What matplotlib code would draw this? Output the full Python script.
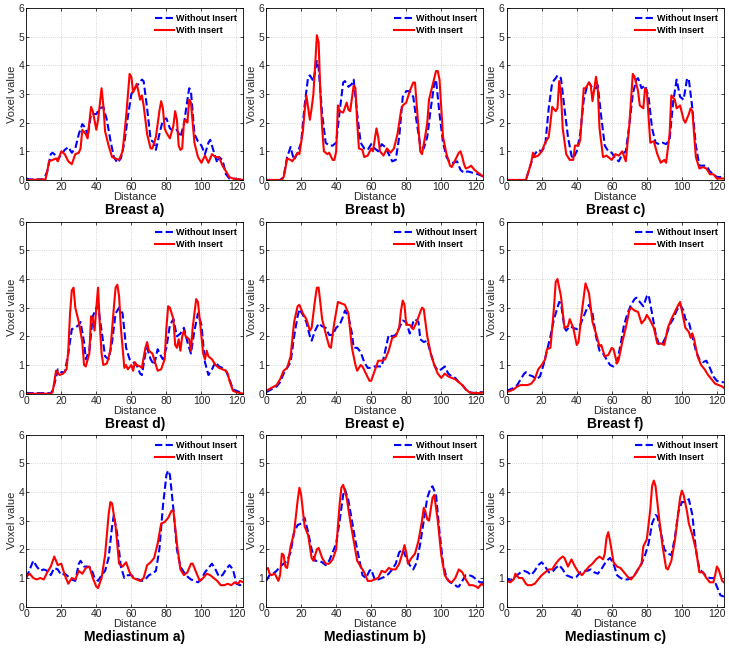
import matplotlib
matplotlib.use('Agg')
import matplotlib.pyplot as plt

plt.rcParams['font.family'] = ['Liberation Sans', 'DejaVu Sans']

# ---- Breast a) ----
ba_wo_x = [0, 2, 10, 12, 14, 15, 17, 18, 20, 22, 24, 26, 28, 30, 32, 34, 35, 37, 40, 42, 44, 46, 48, 50, 52, 54, 56, 58, 60, 62,
           64, 66, 67, 69, 71, 73, 74, 76, 78, 80, 82, 84, 86, 88, 90, 92, 93, 94, 96, 98, 100, 102, 104, 105, 107, 109, 110, 112, 114, 116, 118, 124]
ba_wo_y = [0.05, 0.02, 0.02, 0.3, 0.9, 0.95, 0.85, 0.7, 0.9, 1.05, 1.15, 0.95, 1.1, 1.6, 1.95, 1.8, 1.5, 2.3, 2.3, 2.5, 2.55, 2.1, 1.4, 0.8, 0.6, 0.75, 1.3, 2.2, 3.0, 3.2,
           3.35, 3.5, 3.45, 2.5, 1.4, 1.3, 1.05, 1.6, 2.1, 2.15, 1.8, 1.7, 1.75, 1.5, 1.95, 2.8, 3.2, 3.1, 1.6, 1.35, 1.2, 0.9, 1.3, 1.4, 1.0, 0.6, 0.8, 0.7, 0.2, 0.05, 0.05, 0.0]
ba_wi_x = [0, 11, 12, 13, 15, 17, 18, 20, 22, 24, 26, 28, 30, 31, 32, 34, 35, 37, 38, 40, 41, 43, 44, 45, 47, 49, 51, 53, 55, 57,
           59, 60, 61, 63, 64, 65, 66, 67, 69, 71, 72, 74, 76, 77, 78, 79, 80, 82, 84, 85, 86, 87, 88, 89, 90, 91, 92, 93, 94, 96,
           98, 100, 102, 104, 106, 108, 110, 112, 114, 116, 118, 124]
ba_wi_y = [0, 0.02, 0.3, 0.65, 0.7, 0.75, 0.65, 1.0, 0.9, 0.65, 0.55, 0.9, 0.95, 1.1, 1.75, 1.6, 1.45, 2.55, 2.4, 1.75, 2.1, 3.2, 2.6, 1.7, 1.2, 0.8, 0.75, 0.7, 1.0, 2.2,
           3.7, 3.6, 3.05, 3.35, 3.1, 2.8, 2.95, 2.6, 1.6, 1.1, 1.1, 1.5, 2.4, 2.75, 2.5, 1.8, 1.65, 1.45, 1.9, 2.4, 2.1, 1.2, 1.05, 1.1, 2.0, 2.1, 2.0, 2.8, 2.7, 1.3,
           0.8, 0.6, 0.85, 0.6, 0.9, 0.8, 0.8, 0.5, 0.3, 0.1, 0.05, 0.0]

# ---- Breast b) ----
bb_wo_x = [0, 8, 10, 12, 14, 15, 16, 18, 20, 22, 24, 25, 27, 29, 30, 32, 34, 36, 38, 40, 42, 44, 45, 47, 49, 50, 52, 54, 56, 58,
           60, 62, 64, 66, 68, 70, 72, 74, 76, 78, 80, 82, 84, 86, 88, 90, 92, 94, 96, 97, 99, 101, 103, 105, 107, 109, 111, 113, 115, 118, 121, 124]
bb_wo_y = [0, 0, 0.1, 0.8, 1.15, 0.9, 0.7, 0.95, 1.3, 2.6, 3.6, 3.65, 3.45, 4.15, 3.9, 2.3, 1.3, 1.2, 1.2, 1.3, 2.4, 3.4, 3.45, 3.25, 3.35, 3.5, 2.3, 1.3, 1.1, 1.05,
           1.25, 1.1, 1.0, 1.25, 1.15, 0.9, 0.65, 0.7, 1.5, 2.9, 3.1, 3.1, 2.9, 2.0, 1.2, 1.1, 1.5, 2.5, 3.35, 3.5, 2.3, 1.3, 0.8, 0.6, 0.6, 0.65, 0.35, 0.25, 0.3, 0.25, 0.2, 0.12]
bb_wi_x = [0, 9, 10, 11, 12, 14, 15, 16, 18, 19, 21, 22, 23, 25, 26, 27, 28, 29, 30, 31, 32, 33, 35, 36, 38, 39, 40, 41, 42, 44,
           46, 47, 48, 50, 51, 52, 53, 55, 56, 58, 60, 61, 62, 63, 64, 65, 67, 69, 71, 73, 75, 77, 78, 80, 82, 84, 85, 87, 88, 89,
           91, 92, 93, 95, 97, 98, 99, 101, 103, 105, 106, 108, 110, 111, 112, 113, 114, 116, 117, 119, 121, 124]
bb_wi_y = [0, 0, 0.1, 0.4, 0.75, 0.7, 0.65, 0.75, 0.95, 0.9, 1.7, 2.4, 2.95, 2.1, 2.5, 3.0, 4.0, 5.05, 4.8, 3.0, 1.8, 1.0, 0.9, 0.95, 0.7, 0.7, 1.0, 2.6, 2.4, 2.35,
           2.7, 2.45, 2.4, 3.3, 3.2, 2.0, 1.1, 1.05, 0.8, 0.85, 1.1, 1.0, 1.4, 1.8, 1.5, 1.0, 0.85, 1.1, 0.95, 1.1, 1.6, 2.4, 2.6, 2.7, 3.1, 3.4, 3.4, 1.8, 1.0, 0.9,
           1.6, 2.0, 2.8, 3.3, 3.8, 3.8, 3.5, 1.5, 0.9, 0.5, 0.45, 0.7, 0.95, 1.0, 0.8, 0.55, 0.4, 0.45, 0.5, 0.35, 0.25, 0.12]

# ---- Breast c) ----
bc_wo_x = [0, 11, 12, 14, 16, 18, 20, 22, 24, 26, 28, 29, 31, 33, 35, 37, 38, 40, 42, 44, 46, 47, 49, 51, 52, 54, 56, 58, 60, 62,
           64, 66, 68, 70, 72, 74, 75, 77, 79, 81, 83, 85, 87, 89, 91, 93, 95, 97, 99, 101, 103, 104, 106, 108, 110, 112, 114, 116, 118, 120, 122, 124]
bc_wo_y = [0, 0, 0.2, 0.6, 0.9, 1.05, 1.0, 1.2, 2.5, 3.4, 3.55, 3.65, 3.55, 2.5, 1.5, 0.85, 0.75, 1.0, 1.6, 2.8, 3.3, 3.4, 3.2, 3.2, 3.3, 2.2, 1.2, 1.0, 0.95, 0.75,
           0.65, 0.9, 1.0, 1.9, 3.0, 3.5, 3.55, 3.2, 3.3, 2.9, 1.8, 1.3, 1.25, 1.3, 1.25, 1.4, 2.7, 3.5, 2.9, 2.8, 3.55, 3.5, 2.5, 1.2, 0.5, 0.5, 0.5, 0.3, 0.2, 0.1, 0.1, 0.2]
bc_wi_x = [0, 11, 12, 14, 15, 16, 18, 20, 22, 24, 25, 26, 28, 29, 30, 31, 32, 34, 36, 38, 39, 41, 42, 44, 45, 47, 48, 49, 51, 52,
           53, 55, 57, 58, 60, 62, 64, 66, 68, 70, 72, 73, 75, 76, 78, 79, 80, 82, 84, 86, 88, 90, 91, 93, 94, 96, 97, 99, 101, 102,
           104, 105, 106, 108, 110, 112, 114, 116, 118, 120, 124]
bc_wi_y = [0, 0, 0.2, 0.6, 0.95, 0.8, 0.85, 1.0, 1.3, 1.5, 2.0, 2.55, 2.4, 2.5, 3.45, 3.0, 1.8, 0.9, 0.7, 0.7, 1.2, 1.2, 1.4, 3.2, 3.2, 3.4, 3.3, 2.75, 3.6, 3.2,
           1.8, 0.8, 0.85, 0.8, 0.7, 0.9, 0.85, 1.0, 0.65, 1.9, 3.7, 3.6, 3.1, 2.6, 2.5, 3.2, 3.1, 1.3, 1.35, 0.9, 0.6, 0.7, 0.6, 1.6, 2.95, 2.8, 2.5, 2.6, 2.1, 2.0,
           2.3, 2.5, 2.4, 0.8, 0.4, 0.45, 0.4, 0.2, 0.2, 0.05, 0.05]

# ---- Breast d) ----
bd_wo_x = [0, 2, 14, 15, 17, 18, 20, 22, 24, 26, 28, 30, 31, 33, 34, 36, 38, 40, 41, 43, 45, 47, 49, 51, 53, 55, 57, 59, 61, 63,
           65, 66, 68, 69, 71, 73, 75, 77, 78, 80, 82, 84, 86, 88, 90, 92, 94, 96, 98, 100, 102, 104, 106, 108, 110, 112, 114, 116, 118, 120, 122, 124]
bd_wo_y = [0.03, 0.02, 0.02, 0.1, 0.55, 0.85, 0.75, 0.75, 1.4, 2.25, 2.3, 2.4, 2.5, 1.8, 1.2, 1.5, 2.7, 3.0, 3.05, 2.2, 1.3, 1.2, 1.8, 2.8, 3.0, 2.8, 1.6, 1.2, 1.1, 1.0,
           0.7, 0.65, 1.4, 1.6, 1.2, 1.0, 1.55, 1.3, 1.2, 1.6, 2.4, 2.6, 2.0, 2.1, 2.3, 1.8, 1.4, 2.2, 2.8, 2.4, 1.1, 0.65, 0.85, 1.1, 0.95, 0.9, 0.8, 0.5, 0.15, 0.1, 0.05, 0.0]
bd_wi_x = [0, 14, 15, 16, 17, 18, 19, 21, 23, 24, 25, 26, 27, 28, 30, 32, 33, 34, 36, 37, 38, 39, 40, 41, 42, 43, 44, 46, 48, 50,
           51, 52, 53, 54, 56, 57, 58, 60, 61, 62, 63, 65, 66, 68, 69, 70, 72, 73, 75, 77, 79, 80, 81, 82, 84, 85, 86, 87, 88, 89,
           90, 91, 92, 93, 94, 95, 96, 97, 98, 99, 101, 102, 103, 104, 106, 108, 110, 112, 114, 115, 116, 118, 120, 122, 124]
bd_wi_y = [0, 0, 0.05, 0.4, 0.8, 0.75, 0.65, 0.7, 0.85, 1.5, 2.8, 3.6, 3.7, 3.0, 2.5, 1.8, 1.0, 0.95, 1.4, 2.7, 2.6, 2.2, 3.0, 3.7, 2.4, 1.4, 1.0, 1.05, 1.5, 3.0,
           3.7, 3.8, 3.4, 2.3, 0.9, 1.0, 0.85, 1.0, 0.8, 1.1, 1.0, 0.95, 0.9, 1.6, 1.8, 1.5, 1.4, 1.2, 0.8, 0.85, 1.2, 2.3, 3.05, 3.0, 2.6, 1.7, 1.6, 1.9, 1.5, 2.0,
           2.2, 2.0, 1.95, 1.9, 1.5, 2.3, 2.8, 3.3, 3.2, 2.6, 1.4, 1.2, 1.5, 1.3, 1.2, 1.0, 0.9, 0.85, 0.8, 0.7, 0.45, 0.1, 0.05, 0.02, 0.0]

# ---- Breast e) ----
be_wo_x = [0, 3, 6, 8, 10, 12, 14, 16, 18, 19, 21, 23, 25, 26, 28, 30, 32, 34, 36, 38, 40, 42, 44, 45, 47, 49, 50, 52, 54, 56,
           58, 60, 62, 64, 66, 68, 70, 72, 74, 76, 78, 80, 82, 84, 85, 87, 88, 90, 92, 94, 96, 98, 100, 102, 104, 106, 108, 110, 112, 114,
           116, 118, 120, 122, 124]
be_wo_y = [0.05, 0.15, 0.25, 0.4, 0.7, 0.9, 1.1, 2.0, 2.7, 2.95, 2.75, 2.5, 2.0, 1.85, 2.2, 2.45, 2.35, 2.3, 2.05, 2.05, 2.3, 2.4, 2.7, 2.9, 2.7, 2.1, 1.6, 1.6, 1.45, 1.1,
           0.9, 0.9, 0.95, 0.95, 0.95, 1.5, 2.05, 2.0, 2.05, 2.3, 2.55, 2.5, 2.1, 2.5, 2.6, 2.5, 1.9, 1.8, 1.85, 1.4, 1.0, 0.8, 0.85, 0.95, 0.7, 0.6, 0.55, 0.4, 0.3, 0.15,
           0.05, 0.03, 0.03, 0.05, 0.05]
be_wi_x = [0, 3, 6, 8, 10, 12, 14, 16, 18, 19, 21, 23, 25, 26, 28, 29, 30, 32, 34, 36, 37, 39, 41, 43, 45, 47, 49, 51, 52, 54,
           55, 57, 59, 60, 62, 64, 66, 68, 70, 72, 74, 76, 77, 78, 79, 80, 82, 84, 86, 88, 89, 90, 92, 94, 96, 98, 100, 102, 104, 106,
           108, 110, 112, 114, 116, 118, 120, 122, 124]
be_wi_y = [0.1, 0.2, 0.3, 0.5, 0.8, 0.9, 1.3, 2.5, 3.05, 3.1, 2.8, 2.6, 2.2, 2.3, 3.3, 3.7, 3.7, 2.6, 2.1, 1.65, 1.6, 2.5, 3.2, 3.15, 3.1, 2.8, 1.6, 1.0, 0.8, 1.0,
           0.95, 0.7, 0.45, 0.45, 0.8, 1.15, 1.15, 1.2, 1.5, 1.95, 2.0, 2.3, 2.9, 3.25, 3.1, 2.4, 2.4, 2.25, 2.5, 2.85, 3.0, 2.95, 2.0, 1.4, 1.0, 0.7, 0.55, 0.7, 0.6, 0.55,
           0.5, 0.4, 0.3, 0.15, 0.05, 0.02, 0.02, 0.02, 0.05]

# ---- Breast f) ----
bf_wo_x = [0, 2, 4, 6, 8, 10, 11, 13, 15, 17, 19, 21, 23, 25, 27, 29, 30, 31, 33, 34, 36, 38, 40, 42, 44, 46, 47, 49, 51, 53,
           55, 57, 59, 61, 63, 65, 67, 69, 71, 73, 74, 76, 78, 80, 81, 83, 85, 87, 89, 91, 93, 95, 97, 99, 101, 102, 104, 106, 108, 110,
           112, 114, 116, 118, 120, 122, 124]
bf_wo_y = [0.1, 0.15, 0.2, 0.3, 0.5, 0.7, 0.75, 0.65, 0.6, 0.5, 0.6, 1.0, 1.5, 2.0, 2.6, 3.0, 3.2, 3.15, 2.3, 2.2, 2.35, 2.3, 2.25, 2.4, 2.7, 3.0, 3.1, 2.8, 2.0, 1.5,
           1.4, 1.2, 1.0, 0.95, 1.1, 1.7, 2.4, 2.8, 3.1, 3.3, 3.35, 3.2, 3.05, 3.4, 3.45, 2.8, 2.1, 1.7, 1.75, 2.0, 2.4, 2.6, 2.9, 3.1, 2.9, 2.6, 2.5, 2.0, 1.5, 1.2,
           1.1, 1.15, 0.9, 0.6, 0.45, 0.4, 0.4]
bf_wi_x = [0, 2, 4, 6, 8, 10, 12, 14, 16, 18, 20, 22, 23, 25, 27, 28, 29, 31, 33, 35, 36, 38, 40, 41, 43, 45, 47, 49, 51, 53,
           54, 56, 58, 60, 61, 63, 64, 66, 68, 70, 71, 73, 75, 77, 79, 80, 82, 84, 86, 88, 90, 92, 94, 96, 98, 99, 101, 102, 104, 105,
           106, 107, 109, 111, 113, 115, 117, 119, 121, 123, 124]
bf_wi_y = [0.05, 0.1, 0.15, 0.25, 0.3, 0.3, 0.3, 0.35, 0.5, 0.85, 1.0, 1.2, 1.55, 1.6, 3.0, 3.9, 4.0, 3.4, 2.3, 2.35, 2.6, 2.3, 1.7, 1.8, 2.9, 3.85, 3.5, 2.5, 2.1, 1.65,
           1.7, 1.3, 1.35, 1.6, 1.55, 1.05, 1.2, 1.8, 2.3, 2.9, 3.0, 2.9, 2.85, 2.45, 2.6, 2.75, 2.55, 2.3, 1.75, 1.75, 1.7, 2.3, 2.6, 2.85, 3.1, 3.2, 2.6, 2.3, 2.15, 1.95,
           2.1, 1.9, 1.3, 1.0, 0.85, 0.65, 0.5, 0.35, 0.3, 0.25, 0.2]

# ---- Mediastinum a) ----
ma_wo_x = [0, 2, 4, 6, 8, 10, 12, 14, 16, 18, 20, 22, 24, 26, 28, 30, 31, 33, 35, 37, 39, 41, 43, 45, 47, 49, 50, 52, 54, 56,
           58, 60, 62, 64, 66, 68, 70, 72, 74, 76, 78, 80, 81, 82, 84, 86, 88, 90, 92, 94, 96, 98, 100, 102, 104, 106, 108, 110, 112, 114,
           116, 118, 120, 122, 124]
ma_wo_y = [1.0, 1.3, 1.6, 1.4, 1.25, 1.3, 1.25, 1.1, 1.35, 1.3, 1.1, 1.15, 1.05, 0.95, 0.9, 1.5, 1.6, 1.4, 1.4, 1.35, 1.0, 0.9, 1.1, 1.25, 1.7, 2.8, 3.2, 2.5, 1.4, 1.0,
           1.1, 1.1, 1.0, 0.95, 0.9, 0.95, 1.1, 1.15, 1.25, 2.0, 3.5, 4.6, 4.75, 4.6, 3.4, 2.0, 1.4, 1.2, 1.05, 0.95, 0.9, 0.85, 0.95, 1.2, 1.35, 1.5, 1.3, 1.05, 1.1, 1.3,
           1.45, 1.3, 0.8, 0.75, 0.8]
ma_wi_x = [0, 2, 4, 6, 8, 10, 12, 14, 16, 18, 20, 22, 24, 26, 28, 30, 32, 34, 36, 38, 40, 41, 43, 45, 47, 48, 49, 51, 53, 55,
           57, 59, 61, 63, 65, 67, 69, 71, 73, 75, 77, 79, 81, 83, 84, 86, 88, 90, 92, 94, 95, 97, 99, 101, 103, 105, 107, 109, 111, 113,
           115, 117, 119, 121, 122, 124]
ma_wi_y = [1.05, 1.15, 1.0, 0.95, 1.0, 0.95, 1.2, 1.4, 1.75, 1.45, 1.5, 1.1, 0.8, 1.0, 0.95, 1.25, 1.15, 1.35, 1.4, 1.0, 0.7, 0.65, 1.0, 1.8, 3.2, 3.65, 3.6, 2.8, 1.5, 1.4,
           1.55, 1.2, 1.0, 0.95, 0.9, 1.0, 1.45, 1.55, 1.7, 2.2, 2.9, 2.95, 3.1, 3.35, 3.35, 2.2, 1.3, 1.1, 1.2, 1.5, 1.5, 1.2, 0.9, 1.0, 1.15, 1.1, 1.0, 0.9, 0.75, 0.75,
           0.8, 0.75, 0.85, 0.8, 0.9, 0.85]

# ---- Mediastinum b) ----
mb_wo_x = [0, 2, 4, 6, 8, 10, 12, 14, 16, 18, 20, 22, 24, 26, 28, 30, 32, 34, 36, 38, 40, 42, 44, 45, 47, 49, 51, 53, 55, 57,
           59, 60, 62, 64, 66, 68, 70, 72, 74, 76, 78, 80, 82, 84, 86, 88, 90, 92, 94, 95, 97, 99, 101, 103, 105, 107, 109, 110, 112, 114,
           116, 118, 120, 122, 124]
mb_wo_y = [0.9, 1.1, 1.15, 1.25, 1.4, 1.5, 1.6, 1.9, 2.6, 2.85, 2.9, 3.1, 2.6, 2.0, 1.6, 1.6, 1.55, 1.45, 1.6, 1.9, 2.2, 3.0, 3.9, 4.1, 3.7, 3.0, 2.3, 1.7, 1.1, 1.0,
           1.25, 1.3, 0.95, 0.95, 1.0, 1.05, 1.15, 1.3, 1.5, 1.9, 2.0, 1.7, 1.45, 1.3, 1.55, 2.2, 3.0, 3.8, 4.15, 4.2, 3.9, 2.6, 1.5, 1.0, 0.85, 0.8, 0.7, 0.7, 0.9, 1.1,
           1.1, 1.05, 0.95, 0.85, 0.85]
mb_wi_x = [0, 1, 2, 3, 5, 7, 8, 9, 10, 11, 12, 14, 16, 18, 19, 20, 22, 24, 26, 27, 29, 30, 32, 34, 36, 38, 40, 42, 43, 44,
           46, 48, 50, 52, 54, 56, 58, 60, 62, 64, 66, 68, 70, 72, 74, 76, 78, 79, 80, 81, 83, 85, 87, 89, 90, 91, 92, 93, 95, 96,
           98, 100, 102, 104, 106, 108, 110, 112, 114, 116, 118, 120, 121, 123, 124]
mb_wi_y = [1.3, 1.35, 1.15, 1.1, 1.15, 0.9, 1.1, 1.85, 1.8, 1.4, 1.35, 2.1, 2.6, 3.7, 4.15, 3.9, 2.8, 2.5, 1.7, 1.6, 2.0, 2.05, 1.7, 1.5, 1.5, 1.65, 2.0, 3.6, 4.15, 4.25,
           3.8, 3.0, 2.3, 1.6, 1.4, 1.2, 0.9, 0.9, 0.95, 1.0, 1.25, 1.2, 1.35, 1.3, 1.3, 1.5, 1.9, 2.15, 1.9, 1.5, 1.7, 1.85, 2.3, 3.0, 3.45, 3.3, 3.05, 3.0, 3.8, 3.9,
           3.0, 1.8, 1.1, 0.9, 0.85, 1.0, 1.3, 1.2, 0.95, 0.75, 0.75, 0.7, 0.65, 0.8, 0.75]

# ---- Mediastinum c) ----
mc_wo_x = [0, 2, 4, 6, 8, 10, 12, 14, 16, 18, 20, 22, 24, 26, 28, 30, 32, 34, 36, 38, 40, 42, 44, 46, 48, 50, 52, 54, 56, 58,
           59, 61, 63, 65, 67, 69, 71, 73, 75, 77, 79, 81, 83, 85, 86, 88, 90, 92, 94, 96, 98, 100, 102, 104, 106, 108, 110, 112, 114, 116,
           118, 120, 122, 124]
mc_wo_y = [1.0, 0.9, 1.0, 1.1, 1.2, 1.25, 1.2, 1.1, 1.25, 1.45, 1.55, 1.4, 1.2, 1.2, 1.35, 1.45, 1.3, 1.1, 1.05, 1.0, 1.05, 1.2, 1.25, 1.25, 1.3, 1.2, 1.15, 1.3, 1.5, 1.65,
           1.7, 1.5, 1.1, 1.0, 0.95, 0.95, 1.0, 1.1, 1.3, 1.5, 1.8, 2.2, 2.9, 3.2, 3.15, 2.6, 2.0, 1.85, 1.8, 2.4, 3.3, 3.65, 3.65, 3.75, 3.2, 2.0, 1.3, 1.2, 1.05, 1.0,
           1.0, 0.7, 0.4, 0.35]
mc_wi_x = [0, 2, 4, 5, 7, 9, 11, 12, 14, 16, 18, 20, 22, 24, 26, 28, 30, 32, 33, 35, 37, 39, 41, 43, 45, 47, 49, 51, 53, 55,
           56, 57, 58, 59, 61, 63, 65, 67, 69, 71, 73, 75, 77, 78, 80, 82, 83, 84, 85, 87, 89, 91, 92, 94, 96, 98, 99, 100, 101, 103,
           104, 106, 108, 110, 112, 114, 116, 118, 119, 120, 121, 123, 124]
mc_wi_y = [0.9, 0.85, 0.95, 1.15, 1.0, 1.0, 0.8, 0.75, 0.75, 0.8, 0.95, 1.1, 1.2, 1.3, 1.3, 1.5, 1.65, 1.75, 1.7, 1.4, 1.65, 1.4, 1.2, 1.1, 1.25, 1.4, 1.5, 1.65, 1.75, 1.65,
           1.85, 2.4, 2.6, 2.3, 1.55, 1.4, 1.35, 1.2, 1.05, 0.95, 1.1, 1.3, 1.5, 2.1, 2.35, 3.4, 4.2, 4.4, 4.2, 3.1, 2.1, 1.35, 1.3, 1.6, 2.3, 3.3, 3.8, 4.05, 3.9, 3.3,
           2.9, 2.5, 2.0, 1.2, 1.2, 1.0, 0.85, 0.85, 1.1, 1.4, 1.3, 0.9, 0.85]

titles = ['Breast a)', 'Breast b)', 'Breast c)',
          'Breast d)', 'Breast e)', 'Breast f)',
          'Mediastinum a)', 'Mediastinum b)', 'Mediastinum c)']
curves = [(ba_wo_x, ba_wo_y, ba_wi_x, ba_wi_y), (bb_wo_x, bb_wo_y, bb_wi_x, bb_wi_y), (bc_wo_x, bc_wo_y, bc_wi_x, bc_wi_y),
          (bd_wo_x, bd_wo_y, bd_wi_x, bd_wi_y), (be_wo_x, be_wo_y, be_wi_x, be_wi_y), (bf_wo_x, bf_wo_y, bf_wi_x, bf_wi_y),
          (ma_wo_x, ma_wo_y, ma_wi_x, ma_wi_y), (mb_wo_x, mb_wo_y, mb_wi_x, mb_wi_y), (mc_wo_x, mc_wo_y, mc_wi_x, mc_wi_y)]

fig = plt.figure(figsize=(7.29, 6.49), dpi=100)

lefts = [0.036, 0.365, 0.695]
bottoms = [0.7227, 0.3934, 0.0652]
w, h = 0.298, 0.265

for i, (title, (xo, yo, xi, yi)) in enumerate(zip(titles, curves)):
    ax = fig.add_axes([lefts[i % 3], bottoms[i // 3], w, h])
    ax.plot(xo, yo, color='#0000ff', lw=1.5, dashes=(3.5, 1.6), label='Without Insert')
    ax.plot(xi, yi, color='#ff0000', lw=1.5, label='With Insert')
    ax.set_xlim(0, 124)
    ax.set_ylim(0, 6)
    ax.set_xticks([0, 20, 40, 60, 80, 100, 120])
    ax.set_yticks([0, 1, 2, 3, 4, 5, 6])
    ax.grid(True, linestyle=':', color='#c8c8c8', linewidth=0.6)
    ax.tick_params(direction='in', length=2.5, width=0.5, labelsize=7.5,
                   labelcolor='#262626', top=True, right=True, pad=1.5)
    for s in ax.spines.values():
        s.set_linewidth(0.6)
    ax.set_xlabel('Distance', fontsize=8, labelpad=0, color='#262626')
    ax.set_ylabel('Voxel value', fontsize=8, labelpad=1, color='#262626')
    ax.text(0.5, -0.175, title, transform=ax.transAxes, ha='center', va='center',
            fontsize=10, fontweight='bold')
    ax.legend(loc='upper right', frameon=False, prop={'size': 6.5, 'weight': 'bold'},
              handlelength=2.2, handletextpad=0.2, labelspacing=0.35, borderaxespad=0.3)

fig.savefig('out.png', dpi=100)
